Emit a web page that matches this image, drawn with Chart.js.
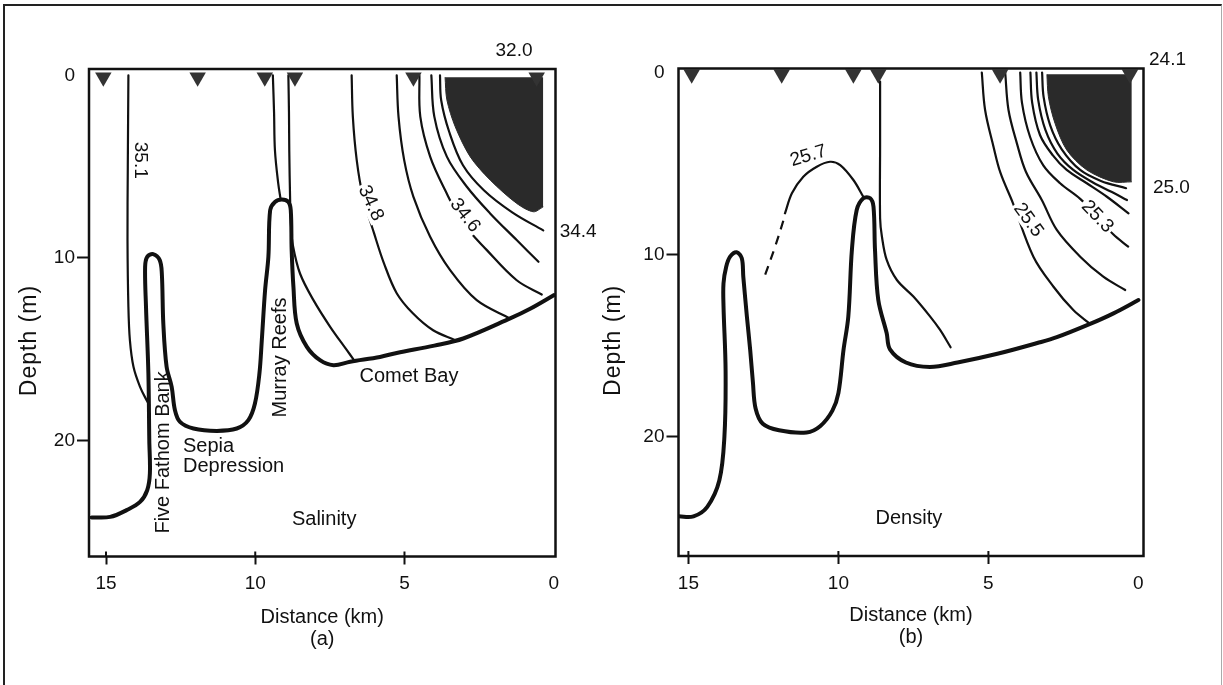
<!DOCTYPE html>
<html>
<head>
<meta charset="utf-8">
<title>Salinity and density sections</title>
<script src="https://cdn.jsdelivr.net/npm/chart.js@4.4.1/dist/chart.umd.min.js"></script>
<style>
  html, body { margin: 0; padding: 0; background: #fff; }
  body { width: 1223px; height: 685px; position: relative; overflow: hidden; }
  .frame { position: absolute; left: 3px; top: 4px; width: 1216px; height: 700px;
           border-left: 2px solid #222; border-top: 2px solid #222; border-right: 1px solid #aaa; }
  .panel { position: absolute; top: 0; height: 685px; }
  #panelA { left: 0; width: 620px; }
  #panelB { left: 590px; width: 633px; }
</style>
</head>
<body>
<div class="frame"></div>
<div class="panel" id="panelA"><canvas id="salinityChart" width="620" height="685"></canvas></div>
<div class="panel" id="panelB"><canvas id="densityChart" width="633" height="685"></canvas></div>
<script>
// axis ticks
var distanceTicks = [15, 10, 5, 0];
var depthTicks = [0, 10, 20];

// (a) salinity section, every point is [distance km, depth m]
var salStations = [15.09, 11.93, 9.68, 8.67, 4.7, 0.57];
var salBottom = [[15.48,24.21],[14.86,24.18],[14.31,23.81],[13.86,23.36],[13.62,22.72],[13.53,21.8],[13.55,19.98],
  [13.58,16.33],[13.66,12.68],[13.69,10.49],[13.62,9.94],[13.42,9.79],[13.2,10.12],[13.13,10.85],[13.08,13.59],
  [12.97,15.96],[12.8,17.06],[12.69,18.34],[12.52,18.98],[12.07,19.34],[11.29,19.47],[10.62,19.34],[10.23,18.88],
  [10.01,17.97],[9.86,16.33],[9.78,14.5],[9.67,11.76],[9.56,9.94],[9.5,7.38],[9.34,6.93],[9.11,6.8],[8.89,6.93],
  [8.81,7.38],[8.78,9.57],[8.72,11.6],[8.61,13.59],[8.27,14.87],[7.83,15.6],[7.38,15.87],[6.82,15.68],[5.82,15.42],
  [5.26,15.2],[4.0,14.8],[3.03,14.41],[1.46,13.31],[0.79,12.78],[0,12.04]];
var salIso351 = [[14.25,0],[14.27,5],[14.28,9.02],[14.25,12.68],[14.2,14.5],[14.08,15.96],[13.86,17.06],[13.64,17.79],[13.55,18.05]];
var salReefWest = [[9.41,0],[9.37,2],[9.34,4.1],[9.23,5.92],[9.15,6.78]];
var salReefEast = [[8.89,0],[8.87,2],[8.86,4.1],[8.83,6.93],[8.8,8.3],[8.74,9.3],[8.5,10.85],[8.05,12.31],[7.49,13.77],[6.93,15.05],[6.71,15.55]];
var salIso348 = [[6.77,0],[6.73,2.26],[6.6,4.64],[6.39,6.65],[6.02,8.64],[5.69,10.28],[5.26,11.93],[4.72,13.03],[4.04,13.96],[3.3,14.5]];
var salIso347 = [[5.26,0],[5.2,2.26],[5.01,4.64],[4.7,6.65],[4.14,8.84],[3.47,10.67],[2.58,12.31],[1.46,13.32]];
var salIso346 = [[4.5,0],[4.47,2.26],[4.14,4.45],[3.64,6.28],[3.03,8.11],[2.24,9.57],[1.24,11.22],[0.4,12.0]];
var salIso345 = [[4.1,0],[4.0,2.26],[3.58,4.45],[2.91,6.1],[2.13,7.56],[1.24,9.02],[0.51,10.21]];
var salIso344 = [[3.81,0],[3.77,1.36],[3.5,3.1],[3.04,4.92],[2.34,6.29],[1.39,7.5],[0.35,8.49]];
var salCore = [[3.64,0.1],[3.58,1.34],[3.3,2.81],[2.8,4.45],[2.13,5.73],[1.24,7.01],[0.68,7.47],[0.35,7.2]];

// (b) density section
var denStations = [14.89, 11.89, 9.5, 8.67, 4.61, 0.28];
var denBottom = [[15.33,24.36],[14.83,24.36],[14.37,23.84],[13.97,22.4],[13.8,20.0],[13.76,16.4],[13.83,12.8],
  [13.83,11.57],[13.74,10.66],[13.61,10.11],[13.39,9.87],[13.22,10.2],[13.17,11.21],[13.05,13.4],[12.94,15.23],
  [12.85,17.0],[12.76,18.44],[12.52,19.28],[11.98,19.64],[11.06,19.76],[10.6,19.4],[10.2,18.56],[10.0,17.6],
  [9.83,15.23],[9.67,13.4],[9.55,9.74],[9.39,7.55],[9.17,6.9],[8.94,6.9],[8.83,7.37],[8.78,9.74],[8.67,12.49],
  [8.39,14.31],[8.28,15.2],[7.75,15.92],[6.95,16.16],[6.03,15.92],[4.7,15.44],[3.37,14.85],[2.72,14.53],
  [1.61,13.8],[0.83,13.22],[0,12.49]];
var denIso257 = [[11.78,7.73],[11.55,6.63],[11.17,5.72],[10.72,5.17],[10.28,4.9],[9.94,5.08],[9.5,5.9],[9.17,6.82]];
var denIso257Guess = [[12.44,11.1],[12.11,9.56],[11.83,8.1],[11.78,7.73]];
var denReef = [[8.61,0.5],[8.61,4],[8.61,8.0],[8.55,9.0],[8.39,10.29],[8.05,11.39],[7.5,12.3],[6.94,13.4],[6.61,14.13],[6.26,15.08]];
var denIso255 = [[5.22,0],[5.11,2.06],[4.83,4.07],[4.6,5.5],[4.18,7.18],[3.5,10.11],[2.83,11.76],[2.17,13.04],[1.61,13.8]];
var denIso254 = [[4.44,0],[4.33,2.06],[4.05,3.89],[3.75,5.45],[3.22,7.0],[2.72,8.64],[1.94,10.11],[1.17,11.21],[0.44,11.94]];
var denIso253 = [[3.94,0],[3.88,1.67],[3.61,3.54],[3.17,5.1],[2.61,6.08],[1.94,6.94],[1.38,7.9],[0.84,8.88],[0.34,9.56]];
var denIso252 = [[3.6,0],[3.54,1.67],[3.28,3.43],[2.85,4.55],[2.39,5.35],[1.72,6.08],[1.05,6.82],[0.33,7.73]];
var denIso251 = [[3.4,0],[3.34,1.5],[3.1,3.15],[2.7,4.45],[2.17,5.35],[1.5,6.05],[0.9,6.55],[0.38,7.0]];
var denIso250 = [[3.21,0],[3.16,1.34],[2.94,2.9],[2.56,4.2],[1.94,5.35],[1.25,5.95],[0.41,6.35]];
var denCore = [[3.05,0.1],[3.0,1.33],[2.78,2.79],[2.39,4.25],[1.72,5.35],[0.83,6.0],[0.22,6.0]];

var ink = '#111';
var fontFamily = '"Liberation Sans", Arial, Helvetica, sans-serif';
Chart.defaults.font.family = fontFamily;
Chart.defaults.color = ink;

function toXY(list) {
  return list.map(function (p) { return {x: p[0], y: p[1]}; });
}

function curve(list, width, extra) {
  var ds = {
    data: toXY(list),
    showLine: true,
    borderColor: ink,
    borderWidth: width,
    pointRadius: 0,
    tension: 0.35,
    fill: false,
    borderCapStyle: 'round',
    borderJoinStyle: 'round'
  };
  return Object.assign(ds, extra || {});
}

function stations(xs) {
  return {
    data: xs.map(function (v) { return {x: v, y: 0.1}; }),
    showLine: false,
    pointStyle: 'triangle',
    rotation: 180,
    pointRadius: 9.5,
    backgroundColor: '#333',
    borderWidth: 0
  };
}

function core(list) {
  return {
    data: toXY(list),
    showLine: true,
    pointRadius: 0,
    tension: 0.3,
    borderColor: '#2a2a2a',
    borderWidth: 1,
    backgroundColor: '#2a2a2a',
    fill: {value: list[0][1]}
  };
}

// box round the plot, inner halves of the x ticks, and the text labels
var sectionNotes = {
  id: 'sectionNotes',
  afterDraw: function (chart, args, opts) {
    var ctx = chart.ctx, a = chart.chartArea, xs = chart.scales.x, ys = chart.scales.y;
    ctx.save();
    ctx.strokeStyle = ink;
    ctx.lineWidth = 2.5;
    ctx.strokeRect(a.left, a.top, a.right - a.left, a.bottom - a.top);
    ctx.lineWidth = 2;
    xs.ticks.forEach(function (t) {
      if (t.value === 0) return;
      var px = xs.getPixelForValue(t.value);
      ctx.beginPath();
      ctx.moveTo(px, a.bottom);
      ctx.lineTo(px, a.bottom - 5);
      ctx.stroke();
    });
    (opts.notes || []).forEach(function (n) {
      ctx.save();
      ctx.font = (n.size || 20) + 'px ' + fontFamily;
      ctx.textAlign = n.align || 'center';
      ctx.textBaseline = 'middle';
      if (n.spacing) ctx.letterSpacing = n.spacing + 'px';
      ctx.translate(xs.getPixelForValue(n.x), ys.getPixelForValue(n.d));
      ctx.rotate((n.rot || 0) * Math.PI / 180);
      if (n.bg) {
        var w = ctx.measureText(n.text).width;
        ctx.fillStyle = '#fff';
        ctx.fillRect(-w / 2 - 2, -9, w + 4, 18);
      }
      ctx.fillStyle = ink;
      ctx.fillText(n.text, n.spacing ? n.spacing / 2 : 0, 0);
      ctx.restore();
    });
    ctx.restore();
  }
};

function hideZero(c) {
  return c.tick && c.tick.value === 0 ? 'rgba(0,0,0,0)' : ink;
}

function sectionOptions(o) {
  return {
    responsive: false,
    animation: false,
    events: [],
    layout: {padding: o.padding},
    plugins: {
      legend: {display: false},
      tooltip: {enabled: false},
      sectionNotes: {notes: o.notes}
    },
    scales: {
      x: {
        type: 'linear',
        reverse: true,
        min: o.xMin,
        max: o.xMax,
        afterBuildTicks: function (s) { s.ticks = distanceTicks.map(function (v) { return {value: v}; }); },
        afterFit: function (s) { s.height = o.xHeight; },
        border: {display: false},
        grid: {drawOnChartArea: false, tickLength: 8, tickWidth: 2, tickColor: hideZero},
        ticks: {color: ink, padding: 8, font: {size: 19}},
        title: {display: true, text: ['Distance (km)', o.tag], color: ink, padding: 0,
                font: {size: 20, lineHeight: 1.1}}
      },
      y: {
        type: 'linear',
        reverse: true,
        min: o.yMin,
        max: o.yMax,
        afterBuildTicks: function (s) { s.ticks = depthTicks.map(function (v) { return {value: v}; }); },
        afterFit: function (s) { s.width = o.yWidth; },
        border: {display: false},
        grid: {drawOnChartArea: false, tickLength: 12, tickWidth: 2, tickColor: hideZero},
        ticks: {color: ink, padding: 2, font: {size: 19}},
        // the depth title sits below the middle of the axis, so the notes plugin draws it
        title: {display: false}
      }
    }
  };
}

new Chart(document.getElementById('salinityChart'), {
  type: 'scatter',
  data: {
    datasets: [
      stations(salStations),
      curve(salBottom, 4),
      curve(salIso351, 2.2),
      curve(salReefWest, 2.2),
      curve(salReefEast, 2.2),
      curve(salIso348, 2.2),
      curve(salIso347, 2.2),
      curve(salIso346, 2.2),
      curve(salIso345, 2.2),
      curve(salIso344, 2.2),
      core(salCore)
    ]
  },
  options: sectionOptions({
    padding: {left: 19, right: 64.5, top: 69, bottom: 35},
    xMin: -0.06, xMax: 15.57, yMin: -0.35, yMax: 26.35,
    xHeight: 93.5, yWidth: 70, tag: '(a)',
    notes: [
      {text: 'Depth (m)', x: 17.55, d: 14.55, rot: -90, size: 23, spacing: 1},
      {text: '35.1', x: 13.86, d: 4.65, rot: 90, size: 19},
      {text: '34.8', x: 6.13, d: 7.0, rot: 65, size: 19, bg: true},
      {text: '34.6', x: 2.97, d: 7.67, rot: 52, size: 19, bg: true},
      {text: '34.4', x: -0.82, d: 8.55, size: 19},
      {text: '32.0', x: 1.33, d: -1.33, size: 19},
      {text: 'Five Fathom Bank', x: 13.09, d: 20.65, rot: -90},
      {text: 'Murray Reefs', x: 9.14, d: 15.45, rot: -90},
      {text: 'Sepia', x: 12.42, d: 20.33, align: 'left'},
      {text: 'Depression', x: 12.42, d: 21.43, align: 'left'},
      {text: 'Comet Bay', x: 4.85, d: 16.5},
      {text: 'Salinity', x: 7.69, d: 24.35}
    ]
  }),
  plugins: [sectionNotes]
});

new Chart(document.getElementById('densityChart'), {
  type: 'scatter',
  data: {
    datasets: [
      stations(denStations),
      curve(denBottom, 4),
      curve(denIso257, 2.2),
      curve(denIso257Guess, 2.2, {borderDash: [9, 7], borderCapStyle: 'butt'}),
      curve(denReef, 2.2),
      curve(denIso255, 2.2),
      curve(denIso254, 2.2),
      curve(denIso253, 2.2),
      curve(denIso252, 2.2),
      curve(denIso251, 2.2),
      curve(denIso250, 2.2),
      core(denCore)
    ]
  },
  options: sectionOptions({
    padding: {left: 13, right: 79.5, top: 68.5, bottom: 37},
    xMin: -0.17, xMax: 15.33, yMin: -0.22, yMax: 26.54,
    xHeight: 92, yWidth: 75.5, tag: '(b)',
    notes: [
      {text: 'Depth (m)', x: 17.48, d: 14.73, rot: -90, size: 23, spacing: 1},
      {text: '25.7', x: 11.0, d: 4.58, rot: -17, size: 19},
      {text: '25.5', x: 3.67, d: 8.1, rot: 54, size: 19, bg: true},
      {text: '25.3', x: 1.37, d: 7.91, rot: 46, size: 19, bg: true},
      {text: '25.0', x: -1.1, d: 6.3, size: 19},
      {text: '24.1', x: -0.97, d: -0.69, size: 19},
      {text: 'Density', x: 7.65, d: 24.5}
    ]
  }),
  plugins: [sectionNotes]
});
</script>
</body>
</html>
